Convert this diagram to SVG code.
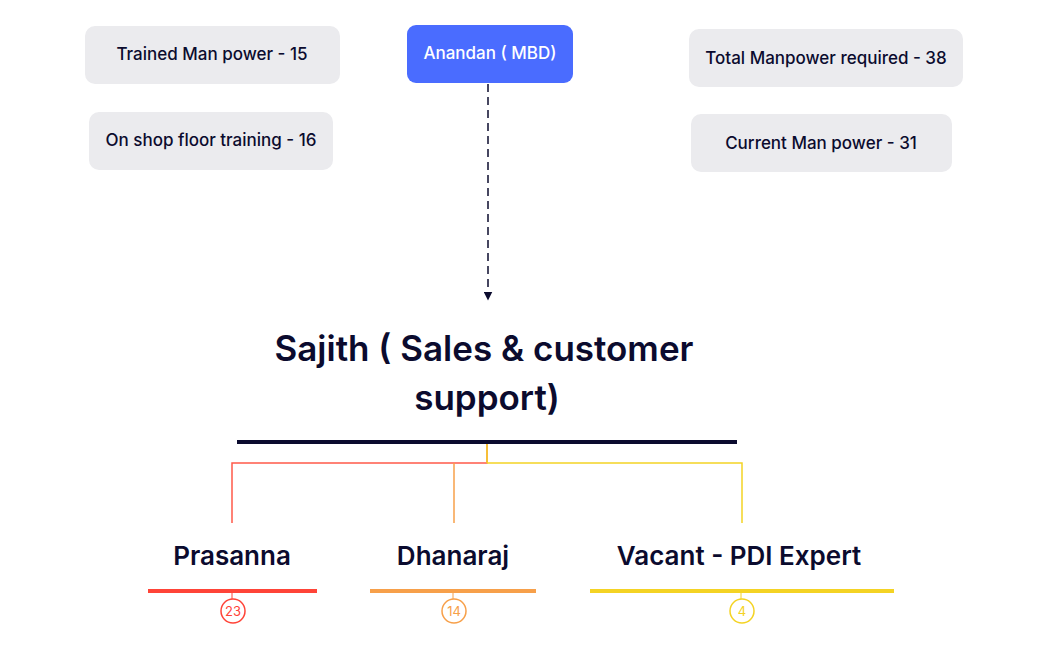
<svg xmlns="http://www.w3.org/2000/svg" width="1050" height="650" viewBox="0 0 1050 650">
<style>
.box{fill:#ebebee}
.t{font-family:"Inter","Liberation Sans",sans-serif;fill:#0b0b2e;text-anchor:middle}
.s{font-size:17px;font-weight:500}
.b{font-size:26px;font-weight:600}
.n{font-family:"Inter","Liberation Sans",sans-serif;font-size:13px;text-anchor:middle}
</style>
<defs><marker id="ah" markerWidth="6" markerHeight="6" refX="3" refY="3" orient="auto"><path d="M0,0L6,3L0,6Z" fill="#0b0b2e"/></marker></defs>
<rect width="1050" height="650" fill="#fff"/>
<g id="trained"><rect class="box" x="85" y="26" width="255" height="58" rx="10"/><text class="t s" x="212" y="60">Trained Man power  - 15</text></g>
<g id="onshop"><rect class="box" x="89" y="112" width="244" height="58" rx="10"/><text class="t s" x="211" y="146">On shop floor training - 16</text></g>
<g id="anandan"><rect x="407" y="25" width="166" height="58" rx="9" fill="#4a6cff"/><text class="t s" x="490" y="59" fill="#fff" style="fill:#fff">Anandan ( MBD)</text></g>
<g id="total"><rect class="box" x="689" y="29" width="274" height="58" rx="10"/><text class="t s" x="826" y="64">Total Manpower required - 38</text></g>
<g id="current"><rect class="box" x="691" y="114" width="261" height="58" rx="10"/><text class="t s" x="821" y="149">Current Man power - 31</text></g>
<g id="sajith"><text class="t" x="484" y="361" style="font-size:35px;font-weight:600">Sajith ( Sales &amp; customer</text><text class="t" x="487" y="410" style="font-size:35px;font-weight:600">support)</text><rect x="237" y="440" width="500" height="4" fill="#0b0b2e"/></g>
<g id="prasanna"><text class="t b" x="232" y="565">Prasanna</text><rect x="148" y="589" width="169" height="4" fill="#ff4438"/><line x1="232" y1="593" x2="232" y2="599" stroke="#ff4438"/><circle cx="233" cy="611" r="12" fill="#fff" stroke="#ff4438" stroke-width="1.5"/><text class="n" x="233" y="616" fill="#ff4438">23</text></g>
<g id="dhanaraj"><text class="t b" x="453" y="565">Dhanaraj</text><rect x="370" y="589" width="166" height="4" fill="#f7a04a"/><line x1="453" y1="593" x2="453" y2="599" stroke="#f7a04a"/><circle cx="454" cy="611" r="12" fill="#fff" stroke="#f7a04a" stroke-width="1.5"/><text class="n" x="454" y="616" fill="#f7a04a">14</text></g>
<g id="vacant"><text class="t b" x="739" y="565">Vacant - PDI Expert</text><rect x="590" y="589" width="304" height="4" fill="#f4d324"/><line x1="741" y1="593" x2="741" y2="599" stroke="#f4d324"/><circle cx="742" cy="611" r="12" fill="#fff" stroke="#f4d324" stroke-width="1.5"/><text class="n" x="742" y="616" fill="#f4d324">4</text></g>
<g id="connectors" fill="none" stroke-width="1.5">
<line x1="488" y1="84" x2="488" y2="296" stroke="#0b0b2e" stroke-dasharray="8,5" marker-end="url(#ah)"/>
<path d="M487,444V463H232V523" stroke="#ff5a4a"/>
<path d="M454,463V523" stroke="#f7a04a"/>
<path d="M487,463H742V523" stroke="#f4d324"/>
<line x1="487" y1="444" x2="487" y2="463" stroke="#f4d324"/>
</g>
</svg>
